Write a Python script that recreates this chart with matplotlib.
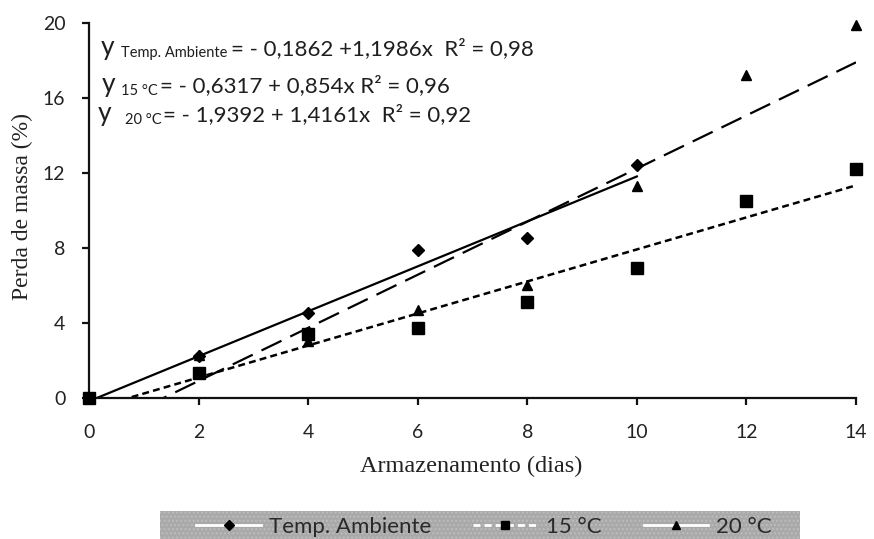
import matplotlib
matplotlib.use("Agg")
import matplotlib.pyplot as plt
import numpy as np
from matplotlib.lines import Line2D
from matplotlib.patches import Rectangle

# Mass loss (%) over storage time (days)
days = [0, 2, 4, 6, 8, 10, 12, 14]
days_ambiente = [0, 2, 4, 6, 8, 10]
perda_ambiente = [0.0, 2.2, 4.5, 7.9, 8.5, 12.4]
perda_15 = [0.0, 1.3, 3.4, 3.7, 5.1, 6.9, 10.5, 12.2]
perda_20 = [0.0, 2.3, 3.0, 4.7, 6.0, 11.3, 17.2, 19.9]

# Linear fits: (intercept, slope)
fit_ambiente = (-0.1862, 1.1986)
fit_15 = (-0.6317, 0.854)
fit_20 = (-1.9392, 1.4161)

x_ticks = [0, 2, 4, 6, 8, 10, 12, 14]
y_ticks = [0, 4, 8, 12, 16, 20]
series_labels = ["Temp. Ambiente", "15 °C", "20 °C"]

plt.rcParams["lines.scale_dashes"] = False
SANS = ["Lato", "DejaVu Sans"]
SERIF = ["Liberation Serif", "DejaVu Serif"]

W, H = 874, 539
fig = plt.figure(figsize=(W / 100, H / 100), dpi=100)
fig.patch.set_facecolor("white")


def px(x, y):
    return x / W, 1 - y / H


x0, x1, y_top, y_bot = 89, 856, 22.7, 397.7
ax = fig.add_axes([x0 / W, 1 - y_bot / H, (x1 - x0) / W, (y_bot - y_top) / H])
ax.set_xlim(0, 14)
ax.set_ylim(0, 20)

for side in ("top", "right"):
    ax.spines[side].set_visible(False)
for side in ("left", "bottom"):
    ax.spines[side].set_linewidth(1.6)
    ax.spines[side].set_color("#111111")

ax.set_xticks(x_ticks)
ax.set_yticks(y_ticks)
ax.tick_params(axis="both", direction="out", length=5, width=1.6, color="#111111",
               labelsize=14, labelcolor="#222222")
ax.tick_params(axis="x", pad=14)
ax.tick_params(axis="y", pad=12)
for lab in ax.get_xticklabels() + ax.get_yticklabels():
    lab.set_family(SANS)

# fitted lines
xa = np.array([0, 10])
xb = np.array([0, 14])
ax.plot(xa, fit_ambiente[0] + fit_ambiente[1] * xa, color="black", lw=1.6,
        ls="-", zorder=2)
ax.plot(xb, fit_15[0] + fit_15[1] * xb, color="black", lw=1.8,
        dashes=(5, 3), zorder=2)
ax.plot(xb, fit_20[0] + fit_20[1] * xb, color="black", lw=1.6,
        dashes=(16, 7), zorder=2)

# observations
ax.plot(days_ambiente, perda_ambiente, ls="none", marker="D", ms=6.5,
        color="black", clip_on=False, zorder=3)
ax.plot(days, perda_15, ls="none", marker="s", ms=8, color="black",
        clip_on=False, zorder=3)
ax.plot(days, perda_20, ls="none", marker="^", ms=7.5, color="black",
        clip_on=False, zorder=3)

# axis titles
fig.text(*px(22, 207), "Perda de massa (%)", rotation=90, ha="center",
         va="center", fontsize=17, family=SERIF, color="#222222")
fig.text(*px(471, 466), "Armazenamento (dias)", ha="center", va="center",
         fontsize=17.5, family=SERIF, color="#222222")

# regression equations
eq_color = "#1e1e1e"
eq_lines = [
    (101, 55, "Temp. Ambiente", 121, 57,
     "= - 0,1862 +1,1986x  R\u00b2 = 0,98", 231),
    (102, 92, "15 °C", 121, 95,
     "= - 0,6317 + 0,854x R\u00b2 = 0,96", 160),
    (98, 121, "20 °C", 125, 124,
     "= - 1,9392 + 1,4161x  R\u00b2 = 0,92", 163),
]
for yx, yb, sub, sx, sb, rest, rx in eq_lines:
    fig.text(*px(yx, yb), "y", fontsize=19, family=SANS, color=eq_color,
             va="baseline")
    fig.text(*px(sx, sb), sub, fontsize=10.5, family=SANS, color=eq_color,
             va="baseline")
    fig.text(*px(rx, yb), rest, fontsize=16, family=SANS, color=eq_color,
             va="baseline")

# legend strip
bg = Rectangle(px(160, 541), (800 - 160) / W, (541 - 511) / H,
               transform=fig.transFigure, facecolor="#a9a9a9",
               edgecolor="#bcbcbc", hatch="....", linewidth=0, zorder=0)
fig.add_artist(bg)

handles = [
    Line2D([], [], color="white", lw=2, ls="-", marker="D", ms=5,
           mfc="black", mec="black"),
    Line2D([], [], color="white", lw=2, dashes=(5, 3), marker="s", ms=6,
           mfc="black", mec="black"),
    Line2D([], [], color="white", lw=2, ls="-", marker="^", ms=6,
           mfc="black", mec="black"),
]
leg = fig.legend(handles, series_labels, loc="center",
                 bbox_to_anchor=px(484, 527), ncol=3, frameon=False,
                 handlelength=2.9, handletextpad=0.36, columnspacing=1.9,
                 prop={"family": SANS, "size": 16})
for t in leg.get_texts():
    t.set_color("#2a2a2a")

fig.savefig("out.png", dpi=100)
